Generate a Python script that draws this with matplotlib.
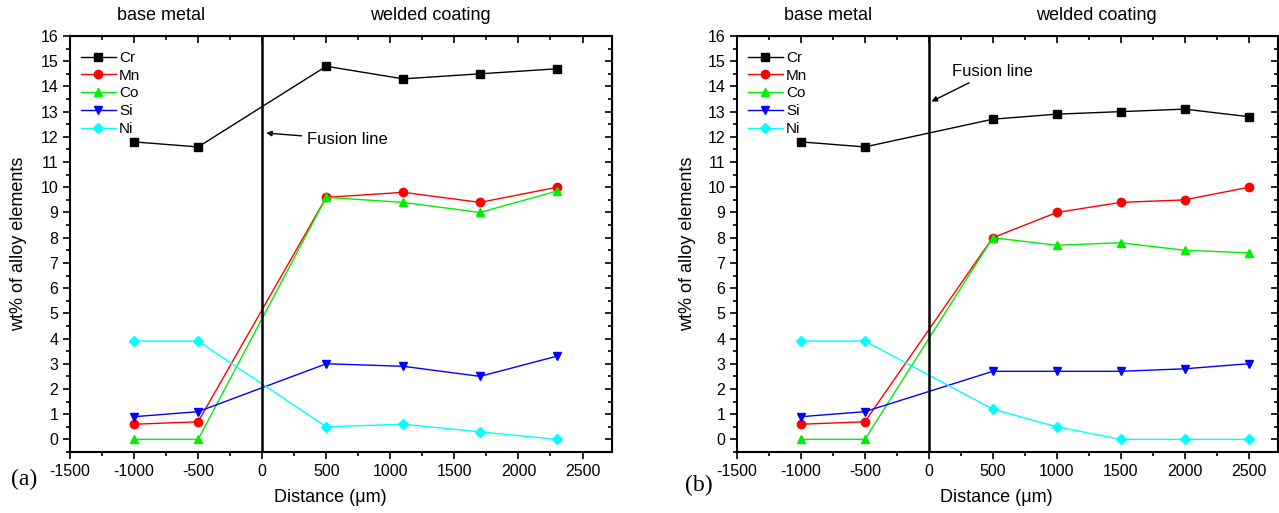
import matplotlib
matplotlib.use("Agg")
import matplotlib.pyplot as plt
from matplotlib.ticker import MultipleLocator

plt.rcParams['font.family'] = ['Liberation Sans', 'DejaVu Sans']
plt.rcParams['axes.unicode_minus'] = False

elements = ["Cr", "Mn", "Co", "Si", "Ni"]

dist_a = [-1000, -500, 500, 1100, 1700, 2300]
cr_a = [11.8, 11.6, 14.8, 14.3, 14.5, 14.7]
mn_a = [0.6, 0.7, 9.6, 9.8, 9.4, 10.0]
co_a = [0.0, 0.0, 9.6, 9.4, 9.0, 9.85]
si_a = [0.9, 1.1, 3.0, 2.9, 2.5, 3.3]
ni_a = [3.9, 3.9, 0.5, 0.6, 0.3, 0.0]

dist_b = [-1000, -500, 500, 1000, 1500, 2000, 2500]
cr_b = [11.8, 11.6, 12.7, 12.9, 13.0, 13.1, 12.8]
mn_b = [0.6, 0.7, 8.0, 9.0, 9.4, 9.5, 10.0]
co_b = [0.0, 0.0, 8.0, 7.7, 7.8, 7.5, 7.4]
si_b = [0.9, 1.1, 2.7, 2.7, 2.7, 2.8, 3.0]
ni_b = [3.9, 3.9, 1.2, 0.5, 0.0, 0.0, 0.0]

colors = ["black", "#ff0000", "#00ee00", "#0000ff", "#00ffff"]
markers = ["s", "o", "^", "v", "D"]

W, H = 1279, 513
fig = plt.figure(figsize=(W / 100, H / 100), dpi=100)

def add_ax(l, r, t, b):
    return fig.add_axes([l / W, 1 - b / H, (r - l) / W, (b - t) / H])

ax_a = add_ax(70, 612, 36, 452)
ax_b = add_ax(737, 1278, 36, 452)

panels = [
    (ax_a, dist_a, [cr_a, mn_a, co_a, si_a, ni_a], "(a)", (-0.060, -0.067), -0.095,
     dict(xy=(30, 12.15), xytext=(350, 11.9))),
    (ax_b, dist_b, [cr_b, mn_b, co_b, si_b, ni_b], "(b)", (-0.045, -0.08), -0.091,
     dict(xy=(20, 13.4), xytext=(180, 14.6))),
]

for ax, x, series, tag, tagpos, ylx, ann in panels:
    for name, ys, c, m in zip(elements, series, colors, markers):
        ms = 6 if m != "D" else 5.5
        ax.plot(x, ys, color=c, marker=m, markersize=ms, linewidth=1.0,
                markeredgecolor=c, label=name)
    ax.axvline(0, color="black", linewidth=1.8)
    ax.set_xlim(-1500, 2730)
    ax.set_ylim(-0.5, 16)
    ax.xaxis.set_major_locator(MultipleLocator(500))
    ax.xaxis.set_minor_locator(MultipleLocator(250))
    ax.yaxis.set_major_locator(MultipleLocator(1))
    ax.yaxis.set_minor_locator(MultipleLocator(0.5))
    ax.tick_params(which="both", direction="out", top=False, right=False,
                   labelsize=11.5, width=1.2)
    ax.tick_params(which="major", length=5)
    ax.tick_params(which="minor", length=3)
    for s in ax.spines.values():
        s.set_linewidth(1.5)
    sec_x = ax.secondary_xaxis("top")
    sec_x.xaxis.set_major_locator(MultipleLocator(500))
    sec_x.xaxis.set_minor_locator(MultipleLocator(250))
    sec_x.tick_params(which="both", direction="in", labeltop=False, width=1.2)
    sec_x.tick_params(which="major", length=5)
    sec_x.tick_params(which="minor", length=3)
    sec_y = ax.secondary_yaxis("right")
    sec_y.yaxis.set_major_locator(MultipleLocator(1))
    sec_y.yaxis.set_minor_locator(MultipleLocator(0.5))
    sec_y.tick_params(which="both", direction="in", labelright=False, width=1.2)
    sec_y.tick_params(which="major", length=5)
    sec_y.tick_params(which="minor", length=3)

    ax.set_xlabel("Distance (\u03bcm)", fontsize=13, va="center")
    ax.xaxis.set_label_coords(0.48, -0.11)
    ax.set_ylabel("wt% of alloy elements", fontsize=13, va="center")
    ax.yaxis.set_label_coords(ylx, 0.5)
    ax.legend(loc="upper left", frameon=False, fontsize=11, handlelength=2.3,
              handletextpad=0.2, labelspacing=0.25, borderaxespad=0.3,
              bbox_to_anchor=(0.0, 0.99))
    ax.text(tagpos[0], tagpos[1], tag, transform=ax.transAxes, fontsize=17,
            family="Liberation Serif", ha="right", va="center")
    ax.annotate("Fusion line", xy=ann["xy"], xytext=ann["xytext"],
                fontsize=12, va="center", ha="left",
                arrowprops=dict(arrowstyle="-|>", color="black", lw=1.0,
                                mutation_scale=8, shrinkB=0, shrinkA=2))
    ax.text(-790, 16.8, "base metal", fontsize=13, ha="center", va="center")
    ax.text(1310, 16.8, "welded coating", fontsize=13, ha="center", va="center")

fig.savefig("out.png", dpi=100)
